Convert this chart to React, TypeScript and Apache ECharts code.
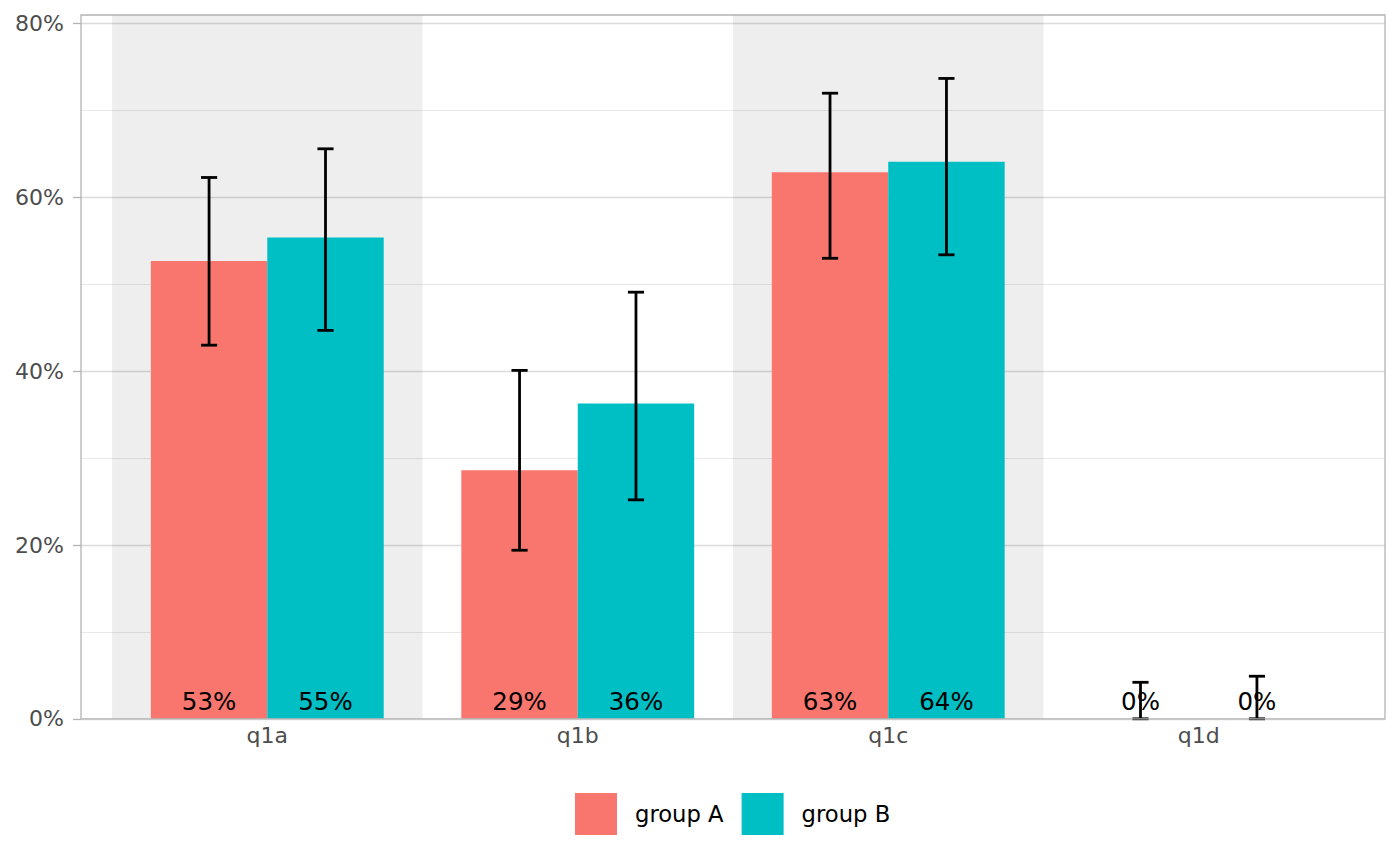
import React, { useEffect, useRef } from "react";
import * as echarts from "echarts";

// ---- data ----
const categories = ["q1a", "q1b", "q1c", "q1d"];
const shadedCategories = ["q1a", "q1c"];
const seriesNames = ["group A", "group B"];
const groupA = [52.7, 28.6, 62.9, 0];
const groupALow = [43.0, 19.4, 53.0, 0];
const groupAHigh = [62.3, 40.1, 72.0, 4.2];
const groupB = [55.4, 36.3, 64.1, 0];
const groupBLow = [44.7, 25.2, 53.4, 0];
const groupBHigh = [65.6, 49.1, 73.7, 4.9];
const yMajorTicks = [0, 20, 40, 60, 80];
const yMinorTicks = [10, 30, 50, 70];

const COLORS = ["#F8766D", "#00BFC4"];
const FONT = "DejaVu Sans";
const BAR_W = 0.375;
const CAP_HALF = 0.026;

const GRID = { left: 81, top: 15, width: 1304, height: 703.8 };

function makeRender(sideIndex: number) {
  return (params: any, api: any) => {
    const pos = api.value(0) as number;
    const v = api.value(1) as number;
    const lo = api.value(2) as number;
    const hi = api.value(3) as number;
    const left = pos + (sideIndex === 0 ? -BAR_W : 0);
    const mid = left + BAR_W / 2;
    const pTop = api.coord([left, v]);
    const pBot = api.coord([left + BAR_W, 0]);
    const cx = api.coord([mid, 0])[0];
    const yHi = api.coord([mid, hi])[1];
    const yLo = api.coord([mid, lo])[1];
    const capL = api.coord([mid - CAP_HALF, 0])[0];
    const capR = api.coord([mid + CAP_HALF, 0])[0];
    const lineStyle = { stroke: "#000", lineWidth: 2.8 };
    return {
      type: "group",
      children: [
        {
          type: "rect",
          shape: { x: pTop[0], y: pTop[1], width: pBot[0] - pTop[0], height: pBot[1] - pTop[1] },
          style: { fill: api.visual("color") },
        },
        { type: "line", shape: { x1: cx, y1: yHi, x2: cx, y2: yLo }, style: lineStyle },
        { type: "line", shape: { x1: capL, y1: yHi, x2: capR, y2: yHi }, style: lineStyle },
        { type: "line", shape: { x1: capL, y1: yLo, x2: capR, y2: yLo }, style: lineStyle },
        {
          type: "text",
          x: cx,
          y: pBot[1] - 17,
          style: {
            text: Math.round(v) + "%",
            fill: "#000",
            fontSize: 24.5,
            fontFamily: FONT,
            align: "center",
            verticalAlign: "middle",
          },
        },
      ],
    };
  };
}

export default function App() {
  const ref = useRef<HTMLDivElement>(null);
  useEffect(() => {
    if (!ref.current) return;
    const chart = echarts.init(ref.current, null, { renderer: "svg" });
    const groups = [
      { vals: groupA, lo: groupALow, hi: groupAHigh },
      { vals: groupB, lo: groupBLow, hi: groupBHigh },
    ];
    chart.setOption({
      animation: false,
      backgroundColor: "#fff",
      textStyle: { fontFamily: FONT },
      grid: { left: GRID.left, top: GRID.top, width: GRID.width, height: GRID.height, containLabel: false },
      xAxis: {
        type: "value",
        min: 0.4,
        max: 4.6,
        axisLine: { show: false },
        axisTick: { show: false, customValues: [1, 2, 3, 4] },
        splitLine: { show: false },
        axisLabel: {
          customValues: [1, 2, 3, 4],
          formatter: (v: number) => categories[Math.round(v) - 1] ?? "",
          color: "#4d4d4d",
          fontSize: 22,
          fontFamily: FONT,
          margin: 6,
        },
      },
      yAxis: [
        {
          type: "value",
          min: 0,
          max: 81,
          axisLine: { show: false },
          axisTick: {
            show: true,
            customValues: yMajorTicks,
            length: 8,
            lineStyle: { color: "#b3b3b3", width: 1.3 },
          },
          axisLabel: {
            customValues: yMajorTicks,
            formatter: (v: number) => v + "%",
            color: "#4d4d4d",
            fontSize: 22,
            fontFamily: FONT,
            margin: 17,
          },
          splitLine: { show: true, lineStyle: { color: "#dcdcdc", width: 1.3 } },
        },
        {
          type: "value",
          min: 0,
          max: 81,
          axisLine: { show: false },
          axisTick: { show: false, customValues: yMinorTicks },
          axisLabel: { show: false },
          splitLine: { show: true, lineStyle: { color: "#e8e8e8", width: 1 } },
        },
      ],
      legend: {
        data: seriesNames,
        left: 575,
        bottom: 31,
        padding: 0,
        icon: "rect",
        itemWidth: 42,
        itemHeight: 42,
        itemGap: 18,
        selectedMode: false,
        textStyle: { fontSize: 22.7, fontFamily: FONT, color: "#000", padding: [0, 0, 0, 13] },
      },
      graphic: [
        {
          type: "rect",
          z: 100,
          shape: { x: GRID.left, y: GRID.top, width: GRID.width, height: GRID.height },
          style: { fill: "none", stroke: "#b3b3b3", lineWidth: 1.3 },
          silent: true,
        },
      ],
      series: [
        {
          type: "custom",
          name: "bands",
          z: 1,
          silent: true,
          data: shadedCategories.map((c) => [categories.indexOf(c) + 1]),
          encode: { x: 0 },
          renderItem: (params: any, api: any) => {
            const pos = api.value(0) as number;
            const cs = params.coordSys;
            const x0 = api.coord([pos - 0.5, 0])[0];
            const x1 = api.coord([pos + 0.5, 0])[0];
            return {
              type: "rect",
              shape: { x: x0, y: cs.y, width: x1 - x0, height: cs.height },
              style: { fill: "rgba(0,0,0,0.066)" },
            };
          },
        },
        ...groups.map((g, gi) => ({
          type: "custom",
          name: seriesNames[gi],
          z: 2,
          itemStyle: { color: COLORS[gi] },
          data: categories.map((_, i) => [i + 1, g.vals[i], g.lo[i], g.hi[i]]),
          encode: { x: 0, y: 1 },
          renderItem: makeRender(gi),
        })),
      ],
    });
    return () => chart.dispose();
  }, []);
  return (
    <div
      ref={ref}
      style={{ position: "absolute", left: 0, top: 0, width: 1400, height: 866 }}
    />
  );
}
